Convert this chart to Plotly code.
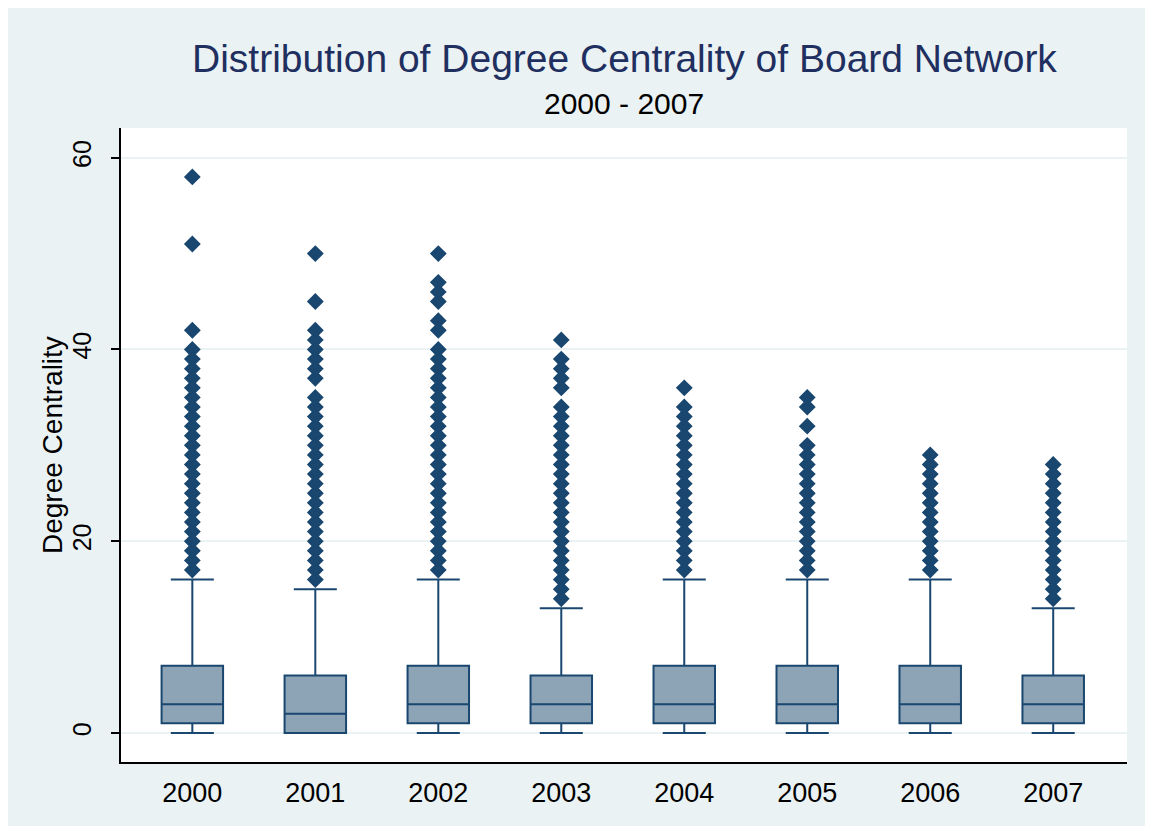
import plotly.graph_objects as go

years = ["2000", "2001", "2002", "2003", "2004", "2005", "2006", "2007"]
q1 = [1, 0, 1, 1, 1, 1, 1, 1]
median = [3, 2, 3, 3, 3, 3, 3, 3]
q3 = [7, 6, 7, 6, 7, 7, 7, 6]
lower_whisker = [0, 0, 0, 0, 0, 0, 0, 0]
upper_whisker = [16, 15, 16, 13, 16, 16, 16, 13]

out_2000 = [58, 51, 42, 40, 39, 38, 37, 36, 35, 34, 33, 32, 31, 30, 29, 28, 27, 26, 25, 24, 23, 22, 21, 20, 19, 18, 17]
out_2001 = [50, 45, 42, 41, 40, 39, 38, 37, 35, 34, 33, 32, 31, 30, 29, 28, 27, 26, 25, 24, 23, 22, 21, 20, 19, 18, 17, 16]
out_2002 = [50, 47, 46, 45, 43, 42, 40, 39, 38, 37, 36, 35, 34, 33, 32, 31, 30, 29, 28, 27, 26, 25, 24, 23, 22, 21, 20, 19, 18, 17]
out_2003 = [41, 39, 38, 37, 36, 34, 33, 32, 31, 30, 29, 28, 27, 26, 25, 24, 23, 22, 21, 20, 19, 18, 17, 16, 15, 14]
out_2004 = [36, 34, 33, 32, 31, 30, 29, 28, 27, 26, 25, 24, 23, 22, 21, 20, 19, 18, 17]
out_2005 = [35, 34, 32, 30, 29, 28, 27, 26, 25, 24, 23, 22, 21, 20, 19, 18, 17]
out_2006 = [29, 28, 27, 26, 25, 24, 23, 22, 21, 20, 19, 18, 17]
out_2007 = [28, 27, 26, 25, 24, 23, 22, 21, 20, 19, 18, 17, 16, 15, 14]
outliers = [out_2000, out_2001, out_2002, out_2003, out_2004, out_2005, out_2006, out_2007]

y_ticks = [0, 20, 40, 60]

title_text = "Distribution of Degree Centrality of Board Network"
subtitle_text = "2000 - 2007"
y_title = "Degree Centrality"

NAVY = "#1a476f"
FILL = "#8da3b6"
BG = "#eaf2f3"
FONT = "Liberation Sans, Arial, sans-serif"

xpos = list(range(len(years)))

fig = go.Figure()
fig.add_trace(go.Box(
    x=xpos, q1=q1, median=median, q3=q3,
    lowerfence=lower_whisker, upperfence=upper_whisker,
    width=0.5, whiskerwidth=0.7,
    fillcolor=FILL, line=dict(color=NAVY, width=2),
    boxpoints=False, showlegend=False, hoverinfo="skip",
))

ox, oy = [], []
for i, vals in enumerate(outliers):
    ox.extend([i] * len(vals))
    oy.extend(vals)
fig.add_trace(go.Scatter(
    x=ox, y=oy, mode="markers",
    marker=dict(symbol="diamond", size=11, color=NAVY, line=dict(width=1.8, color=NAVY)),
    showlegend=False, hoverinfo="skip",
))

# page body has an 8px margin: figure occupies window x 8..1153, y 8..831
W, H = 1145, 823
L, R, T, B = 113, 26, 120, 69
pw, ph = W - L - R, H - T - B

fig.update_layout(
    width=W, height=H,
    margin=dict(l=L, r=R, t=T, b=B),
    paper_bgcolor="white", plot_bgcolor="white",
    font=dict(family=FONT, color="black"),
    shapes=[
        dict(type="rect", xref="paper", yref="paper", layer="below",
             x0=-L / pw, x1=1 + (R - 5) / pw,
             y0=-(B - 5) / ph, y1=1 + T / ph,
             fillcolor=BG, line=dict(width=0)),
        dict(type="rect", xref="paper", yref="paper", layer="below",
             x0=0, x1=1, y0=0, y1=1, fillcolor="white", line=dict(width=0)),
    ],
    annotations=[
        dict(text=title_text, xref="paper", yref="paper", x=0.5, y=1 + (T - 50) / ph,
             xanchor="center", yanchor="middle", showarrow=False,
             font=dict(family=FONT, size=39, color="#1f2f5f")),
        dict(text=subtitle_text, xref="paper", yref="paper", x=0.5, y=1 + (T - 95) / ph,
             xanchor="center", yanchor="middle", showarrow=False,
             font=dict(family=FONT, size=30, color="black")),
        dict(text=y_title, xref="paper", yref="paper", x=-(L - 44) / pw, y=0.5,
             xanchor="center", yanchor="middle", textangle=-90, showarrow=False,
             font=dict(family=FONT, size=28, color="black")),
    ],
)

fig.update_xaxes(
    range=[-0.58, 7.6], tickvals=xpos, ticktext=years,
    showgrid=False, zeroline=False, showline=True, linecolor="black", linewidth=1.5,
    ticks="", tickfont=dict(size=27, color="black"), ticklabelstandoff=6,
)
fig.update_yaxes(
    range=[-3.03, 63.1], tickvals=y_ticks, tickangle=-90,
    showgrid=True, gridcolor=BG, gridwidth=1.5, zeroline=False,
    showline=True, linecolor="black", linewidth=1.5,
    ticks="outside", ticklen=8, tickwidth=1.5, tickcolor="black",
    tickfont=dict(size=25, color="black"), ticklabelstandoff=10,
)

fig.write_html("out.html")
